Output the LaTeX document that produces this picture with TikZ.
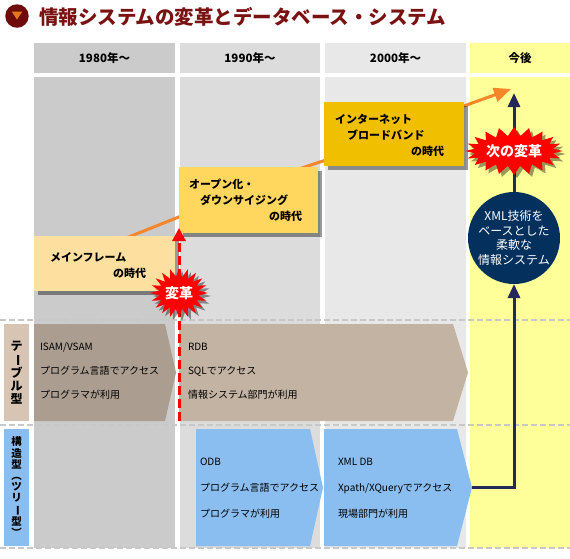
\documentclass[tikz,border=0pt]{standalone}
\usepackage{fontspec}
\setmainfont{Noto Sans CJK JP}
\usepackage{graphicx}
\usepackage{tikz}
\usetikzlibrary{positioning,arrows.meta,shapes.symbols,shadows,calc}

\definecolor{titlered}{HTML}{7A1212}
\definecolor{iconred}{HTML}{6E0B0B}
\definecolor{iconorange}{HTML}{E07A1C}
\definecolor{colA}{HTML}{CBCBCB}
\definecolor{colB}{HTML}{DCDCDC}
\definecolor{colC}{HTML}{E8E8E8}
\definecolor{colD}{HTML}{FFFF99}
\definecolor{mfyellow}{HTML}{FDE0A0}
\definecolor{openyellow}{HTML}{FFD65E}
\definecolor{netyellow}{HTML}{F0BF00}
\definecolor{bandA}{HTML}{AB9E91}
\definecolor{bandB}{HTML}{C3B3A3}
\definecolor{tablebeige}{HTML}{D8C4B2}
\definecolor{treeblue}{HTML}{8BBEF0}
\definecolor{navyfill}{HTML}{04305E}
\definecolor{navyline}{HTML}{24295A}
\definecolor{trendorange}{HTML}{F5862A}
\definecolor{burstred}{HTML}{FF0000}
\definecolor{rulegray}{HTML}{C8C8C8}

\newcommand\tatebar{\rotatebox[origin=c]{-90}{ー}}
\newcommand\tatelp{\rotatebox[origin=c]{-90}{（}}
\newcommand\taterp{\rotatebox[origin=c]{-90}{）}}

\tikzset{
  every node/.style={inner sep=0pt, outer sep=0pt},
  colhead/.style={minimum height=30pt, font=\fontsize{11.5}{12}\selectfont\bfseries},
  colbody/.style={minimum height=471pt},
  era/.style={
    minimum width=#1,
    drop shadow={shadow xshift=4pt, shadow yshift=-4pt, fill=black, opacity=0.4}
  },
  eratext/.style={anchor=west, align=left, font=\fontsize{11}{16}\selectfont\bfseries},
  bandtext/.style={anchor=west, align=left, font=\fontsize{10}{24}\selectfont},
  rowlabel/.style={minimum width=25pt, align=center, font=\bfseries},
  burst/.style={
    starburst, random starburst=0, starburst points=20,
    starburst point height=9pt, fill=burstred, text=white,
    font=\fontsize{14}{14}\selectfont\bfseries,
    drop shadow={shadow xshift=3pt, shadow yshift=-3pt, fill=black, opacity=0.4}
  },
  trend/.style={draw=trendorange, line width=3pt},
  change/.style={draw=burstred, line width=3pt, dash pattern=on 9pt off 4pt,
    -{Triangle[length=13pt, width=13pt]}},
  navy/.style={draw=navyline, line width=3pt,
    -{Triangle[length=14pt, width=12pt, fill=navyline]}},
  rule/.style={draw=rulegray, line width=1.5pt, dash pattern=on 6pt off 3pt}
}

\begin{document}
\begin{tikzpicture}[x=1pt, y=-1pt]

\useasboundingbox (0,0) rectangle (570,558);
\fill[white] (0,0) rectangle (570,558);

%% ===========================================================================
%% Title
%% ===========================================================================
\node[circle, fill=iconred, minimum size=23.5pt] (icon) at (17,16) {};
\fill[iconorange] ($(icon)+(-5.3,-4.5)$) -- ($(icon)+(5.3,-4.5)$) -- ($(icon)+(0,3.5)$) -- cycle;
\node[anchor=west, text=titlered, font=\fontsize{19.5}{20}\selectfont\bfseries] (title) at (39,17)
  {情報システムの変革とデータベース・システム};

%% ===========================================================================
%% Time columns
%% ===========================================================================
\node[colhead, fill=colA, minimum width=141pt] (h80)  at (104.5,58) {1980年～};
\node[colhead, fill=colB, minimum width=140pt] (h90)  at (250,58)   {1990年～};
\node[colhead, fill=colC, minimum width=141pt] (h00)  at (395.5,58) {2000年～};
\node[colhead, fill=colD, minimum width=100pt] (hfut) at (520,58)   {今後};

\node[colbody, fill=colA, minimum width=141pt] (c80)  at (104.5,312.5) {};
\node[colbody, fill=colB, minimum width=140pt] (c90)  at (250,312.5)   {};
\node[colbody, fill=colC, minimum width=141pt] (c00)  at (395.5,312.5) {};
\node[colbody, fill=colD, minimum width=100pt] (cfut) at (520,312.5)   {};

% row rules
\draw[rule] (0,320) -- (570,320);
\draw[rule] (0,425) -- (570,425);
\draw[rule] (0,548) -- (570,548);

%% ===========================================================================
%% Eras
%% ===========================================================================
\coordinate (tr1) at (120,240.5);
\coordinate (tr2) at (190,212.5);
\coordinate (tr3) at (295,170.3);
\coordinate (tr4) at (335,157);
\coordinate (tr5) at (450,111);
\coordinate (tr6) at (511,89);
\draw[trend] (tr1) -- (tr2);
\draw[trend] (tr3) -- (tr4);
\draw[trend, -{Triangle[length=17pt, width=14pt]}] (tr5) -- (tr6);

\node[era=141pt, fill=mfyellow, minimum height=55pt]   (mainframe) at (104.5,263.5) {};
\node[era=139pt, fill=openyellow, minimum height=66pt] (open)      at (248.5,200)   {};
\node[era=140pt, fill=netyellow, minimum height=64pt]  (internet)  at (394,134)     {};

\node[eratext] (mftext)  at (50,265)  {メインフレーム\\\hspace*{63pt}の時代};
\node[eratext] (optext)  at (189,200) {オープン化・\\\hspace*{11pt}ダウンサイジング\\\hspace*{80pt}の時代};
\node[eratext] (nettext) at (335,135) {インターネット\\\hspace*{12pt}ブロードバンド\\\hspace*{76pt}の時代};

%% ===========================================================================
%% Table-type row
%% ===========================================================================
\node[rowlabel, fill=tablebeige, minimum height=97pt, font=\fontsize{12}{13}\selectfont\bfseries]
  (tablerow) at (16.5,372.5) {テ\\\tatebar\\ブ\\ル\\型};

\fill[bandA] (34,324) -- (165,324) -- (176,372.5) -- (165,421) -- (34,421) -- cycle;
\fill[bandB] (179,324) -- (453,324) -- (468,372.5) -- (453,421) -- (179,421) -- cycle;

\node[bandtext] (isam) at (40,371)  {ISAM/VSAM\\プログラム言語でアクセス\\プログラマが利用};
\node[bandtext] (rdb)  at (188,371) {RDB\\SQLでアクセス\\情報システム部門が利用};

%% ===========================================================================
%% Tree-type row
%% ===========================================================================
\node[rowlabel, fill=treeblue, minimum height=117pt, font=\fontsize{10.5}{11.2}\selectfont\bfseries]
  (treerow) at (16.5,487.5) {構\\造\\型\\\tatelp\\ツ\\リ\\\tatebar\\型\\\taterp};

\fill[treeblue] (196,429) -- (310,429) -- (323,487.5) -- (310,546) -- (196,546) -- cycle;
\fill[treeblue] (324,429) -- (457,429) -- (472,487.5) -- (457,546) -- (324,546) -- cycle;
\coordinate (xmltip) at (472,487.5);

\node[bandtext, font=\fontsize{10}{26}\selectfont] (odb)   at (200,488) {ODB\\プログラム言語でアクセス\\プログラマが利用};
\node[bandtext, font=\fontsize{10}{26}\selectfont] (xmldb) at (338,488) {XML DB\\Xpath/XQueryでアクセス\\現場部門が利用};

%% ===========================================================================
%% Changes
%% ===========================================================================
\coordinate (revbot) at (179,421);
\coordinate (revtop) at (179,228);
\draw[change] (revbot) -- (revtop);
\node[burst, minimum width=52pt, minimum height=50pt] (rev) at (179,293) {変革};

\node[circle, fill=navyfill, minimum size=92pt, text=white, align=center,
      font=\fontsize{12}{14.5}\selectfont] (future) at (514,238)
  {XML技術を\\ベースとした\\柔軟な\\情報システム};

\coordinate (navtop) at (514,93);
\draw[navy] (xmltip) -| (future.south);
\draw[navy] (future.north) -- (navtop);

\node[burst, minimum width=88pt, minimum height=48pt] (nextrev) at (514,151) {次の変革};

\end{tikzpicture}
\end{document}
